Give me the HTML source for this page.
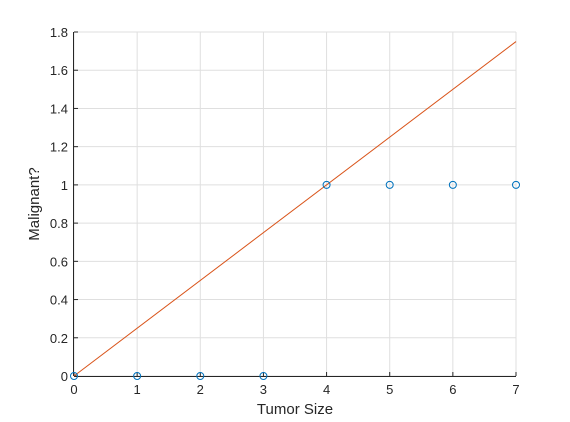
<!DOCTYPE html>
<html><head><meta charset="utf-8"><style>body{margin:0;background:#fff}svg{display:block}text{font-family:"Liberation Sans",sans-serif;fill:#262626}</style></head>
<body>
<svg id="chart" width="570" height="422" xmlns="http://www.w3.org/2000/svg"></svg>
<script>
const xTicks=[0,1,2,3,4,5,6,7];
const yTicks=[0,0.2,0.4,0.6,0.8,1,1.2,1.4,1.6,1.8];
const yTickLabels=["0","0.2","0.4","0.6","0.8","1","1.2","1.4","1.6","1.8"];
const pointX=[0,1,2,3,4,5,6,7];
const pointY=[0,0,0,0,1,1,1,1];
const lineX=[0,7];
const lineY=[0,1.75];
const X0=74,X1=516,Y0=376,Y1=32;
const sx=v=>X0+(v-0)/7*(X1-X0);
const sy=v=>Y0-(v-0)/1.8*(Y0-Y1);
const svg=document.getElementById('chart');
const NS='http://www.w3.org/2000/svg';
function mk(t,a,p){const e=document.createElementNS(NS,t);for(const k in a)e.setAttribute(k,a[k]);(p||svg).appendChild(e);return e;}
const grid=mk('g',{});


xTicks.forEach(v=>{mk('line',{x1:sx(v),x2:sx(v),y1:Y0,y2:Y1,stroke:'#dfdfdf','stroke-width':1},grid);});
yTicks.forEach(v=>{mk('line',{x1:X0,x2:X1,y1:sy(v),y2:sy(v),stroke:'#dfdfdf','stroke-width':1},grid);});
const ax=mk('g',{});


mk('line',{x1:X0,x2:X1,y1:Y0+.5,y2:Y0+.5,stroke:'#262626'},ax);
mk('line',{x1:X0-.5,x2:X0-.5,y1:Y0,y2:Y1,stroke:'#262626'},ax);
xTicks.forEach(v=>{mk('line',{x1:sx(v),x2:sx(v),y1:Y0,y2:Y0-4,stroke:'#262626'},ax);
const t=mk('text',{x:sx(v),y:Y0+18,'text-anchor':'middle','font-size':13},ax);t.textContent=v;
});
yTicks.forEach((v,i)=>{mk('line',{x1:X0,x2:X0+4,y1:sy(v),y2:sy(v),stroke:'#262626'},ax);
const t=mk('text',{x:X0-6,y:sy(v)+5,'text-anchor':'end','font-size':13},ax);t.textContent=yTickLabels[i];
});
const xt=mk('text',{x:(X0+X1)/2,y:414,'text-anchor':'middle','font-size':15});xt.textContent='Tumor Size';

const yt=mk('text',{x:39,y:(Y0+Y1)/2,'text-anchor':'middle','font-size':15,transform:'rotate(-90 39 '+((Y0+Y1)/2)+')'});yt.textContent='Malignant?';

const ln=mk('line',{x1:sx(lineX[0]),y1:sy(lineY[0]),x2:sx(lineX[1]),y2:sy(lineY[1]),stroke:'#d95319','stroke-width':1});

pointX.forEach((v,i)=>{const c=mk('circle',{cx:sx(v),cy:sy(pointY[i]),r:3.5,fill:'none',stroke:'#0072bd','stroke-width':1});
});
</script>
</body></html>
